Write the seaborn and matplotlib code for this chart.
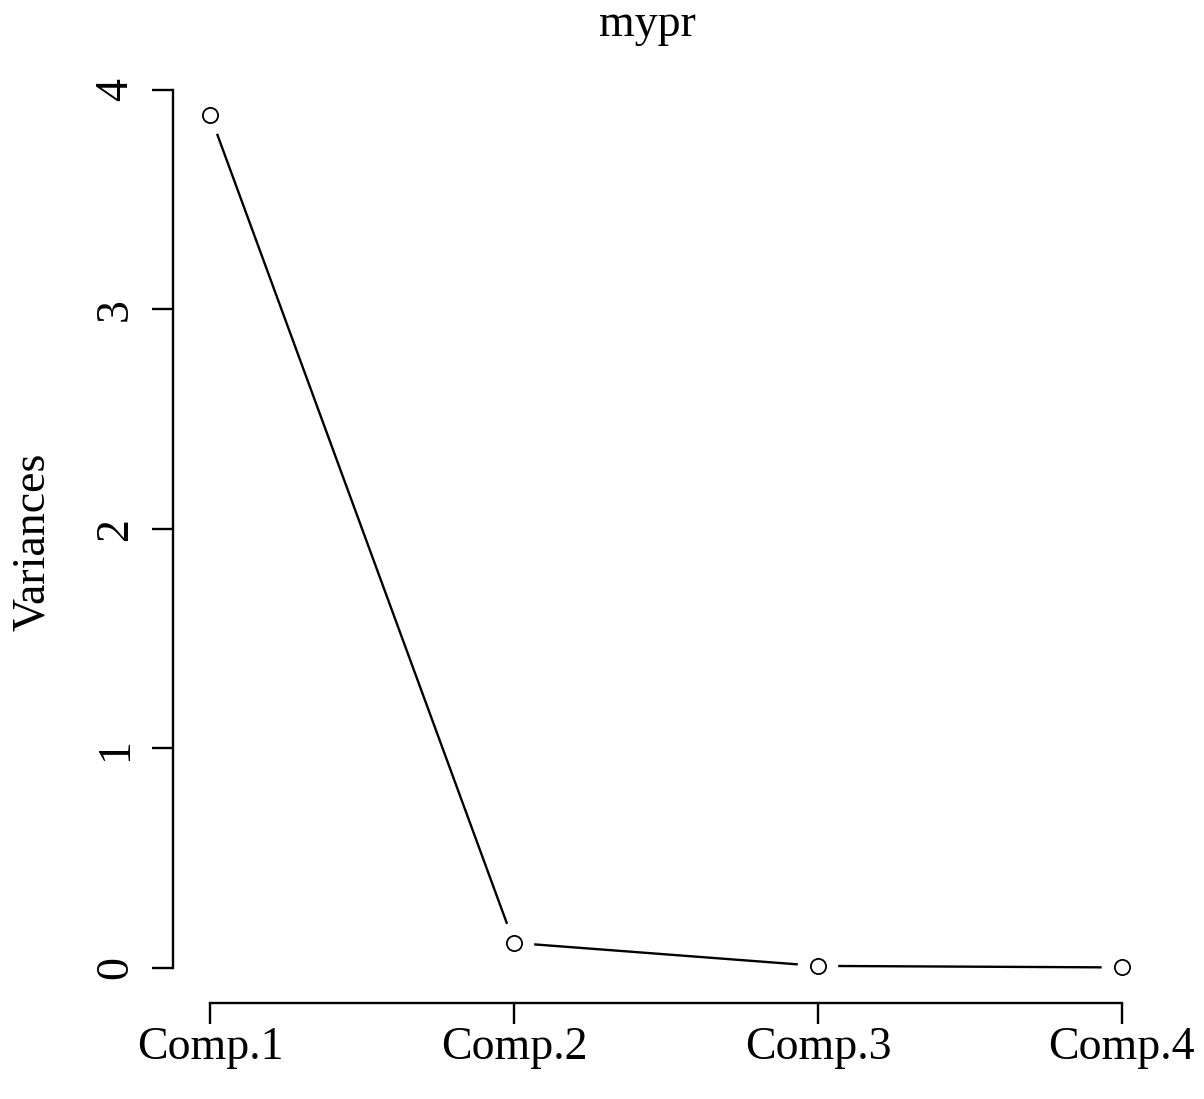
import seaborn as sns
import numpy as np
import pandas as pd
import matplotlib.pyplot as plt

components = ['Comp.1', 'Comp.2', 'Comp.3', 'Comp.4']
variances = [3.886, 0.114, 0.009, 0.002]
y_ticks = [0, 1, 2, 3, 4]

df = pd.DataFrame({'component': components, 'variance': variances})

sns.set_style("ticks")
plt.rcParams['font.family'] = ['Liberation Serif', 'DejaVu Serif']
plt.rcParams['text.color'] = 'black'
plt.rcParams['axes.labelcolor'] = 'black'

fig = plt.figure(figsize=(12.04, 10.99), dpi=100)
ax = fig.add_axes([173/1204, 96/1099, 986/1204, 922/1099])

# line, then white discs for the gaps (like R type="b"), then open circles
sns.lineplot(data=df, x='component', y='variance', color='black', linewidth=1.7, ax=ax)
sns.scatterplot(data=df, x='component', y='variance', s=850, color='white',
                edgecolor='none', zorder=3, ax=ax)
sns.scatterplot(data=df, x='component', y='variance', s=120, facecolor='white',
                edgecolor='black', linewidth=1.3, zorder=4, ax=ax)

ax.set_xlim(-0.122, 3.122)
ax.set_ylim(-0.16, 4.04)
ax.set_yticks(y_ticks)
ax.set_yticklabels([str(t) for t in y_ticks], rotation=90, va='center')

for side in ['top', 'right']:
    ax.spines[side].set_visible(False)
ax.spines['left'].set_bounds(0, 4)
ax.spines['bottom'].set_bounds(0, 3)
for side in ['left', 'bottom']:
    ax.spines[side].set_linewidth(1.7)
    ax.spines[side].set_color('black')

ax.tick_params(axis='both', length=15, width=1.7, colors='black', labelsize=33)
ax.tick_params(axis='y', pad=11)
ax.tick_params(axis='x', pad=2)

ax.set_xlabel('')
ax.set_ylabel('Variances', fontsize=33)
ax.yaxis.label.set_va('center')
ax.yaxis.set_label_coords(-0.142, 0.5)

fig.text(647/1204, 1 - 36/1099, 'mypr', ha='center', va='baseline', fontsize=33)

plt.savefig('out.png', dpi=100)
